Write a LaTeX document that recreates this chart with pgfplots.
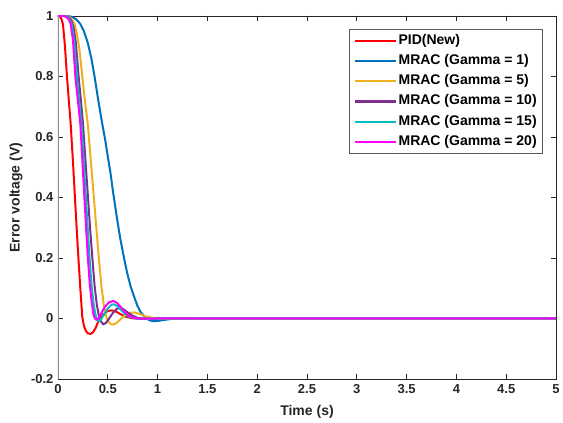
\documentclass[border=0pt]{standalone}
\usepackage{fontspec}
\setmainfont{Liberation Sans}
\usepackage{pgfplots}
\pgfplotsset{compat=1.18}

\definecolor{pidred}{rgb}{1,0,0}
\definecolor{gammaone}{rgb}{0,0.447,0.741}
\definecolor{gammafive}{rgb}{0.929,0.694,0.125}
\definecolor{gammaten}{rgb}{0.494,0.184,0.556}
\definecolor{gammafifteen}{rgb}{0,0.75,0.75}
\definecolor{gammatwenty}{rgb}{1,0,1}
\definecolor{axgray}{rgb}{0.15,0.15,0.15}

\begin{document}
\begin{tikzpicture}
\useasboundingbox (-58pt,-44pt) rectangle (505pt,379pt);
\begin{axis}[
    at={(0,0)}, anchor=south west,
    scale only axis,
    width=498pt, height=363pt,
    xmin=0, xmax=5, ymin=-0.2, ymax=1,
    xtick={0,0.5,...,5},
    xticklabels={0,0.5,1,1.5,2,2.5,3,3.5,4,4.5,5},
    ytick={-0.2,0,0.2,0.4,0.6,0.8,1},
    yticklabels={-0.2,0,0.2,0.4,0.6,0.8,1},
    tick align=inside,
    major tick length=5pt,
    axis line style={axgray, line width=0.8pt},
    every tick/.style={axgray, line width=0.8pt},
    tick label style={font=\bfseries\fontsize{13}{15}\selectfont, text=axgray},
    /pgf/number format/assume math mode=true,
    xticklabel style={yshift=-2pt},
    yticklabel style={xshift=-1pt},
    xlabel={Time (s)},
    ylabel={Error voltage (V)},
    label style={font=\bfseries\fontsize{14}{16}\selectfont, text=axgray},
    xlabel style={at={(axis description cs:0.5,-0.091)}, anchor=center},
    ylabel style={at={(axis description cs:-0.0845,0.5)}, anchor=center},
    legend style={
        at={(axis description cs:1,1)}, anchor=north east,
        xshift=-13pt, yshift=-13pt,
        draw=gray!70!black, line width=0.6pt,
        font=\bfseries\fontsize{14}{16}\selectfont,
        inner xsep=4pt, inner ysep=1.5pt,
        nodes={inner xsep=2pt, inner ysep=3.6pt, text height=10pt, text depth=3pt},
    },
    legend cell align=left,
    legend image code/.code={\draw[#1, line width=2.2pt] (0pt,0pt) -- (41pt,0pt);},
    every axis plot/.append style={line width=2pt},
]

\addplot[pidred] coordinates {
(0,1)(0.02,0.998)(0.035,0.99)(0.05,0.972)(0.07,0.90)(0.09,0.80)(0.11,0.715)
(0.127,0.645)(0.15,0.52)(0.17,0.40)(0.187,0.30)(0.205,0.20)(0.225,0.095)
(0.244,0.005)(0.26,-0.024)(0.28,-0.041)(0.30,-0.049)(0.325,-0.051)(0.35,-0.046)
(0.38,-0.03)(0.41,-0.005)(0.45,0.013)(0.50,0.025)(0.54,0.027)(0.58,0.023)
(0.63,0.014)(0.68,0.006)(0.74,0.001)(0.82,-0.001)(0.95,0)(5,0)
};
\addlegendentry{PID(New)}

\addplot[gammaone] coordinates {
(0,1)(0.1,1)(0.14,0.997)(0.18,0.99)(0.224,0.974)(0.26,0.95)(0.30,0.91)
(0.335,0.86)(0.367,0.80)(0.405,0.72)(0.444,0.644)(0.474,0.59)(0.50,0.535)
(0.527,0.481)(0.55,0.425)(0.574,0.371)(0.60,0.315)(0.627,0.261)(0.66,0.205)
(0.694,0.151)(0.73,0.105)(0.774,0.063)(0.80,0.04)(0.834,0.019)(0.88,0.002)
(0.92,-0.006)(0.96,-0.009)(1.0,-0.008)(1.06,-0.005)(1.15,-0.001)(1.3,0)(5,0)
};
\addlegendentry{MRAC (Gamma = 1)}

\addplot[gammafive] coordinates {
(0,1)(0.09,1)(0.12,0.995)(0.145,0.987)(0.167,0.972)(0.19,0.94)(0.215,0.89)
(0.244,0.80)(0.27,0.72)(0.30,0.64)(0.325,0.54)(0.355,0.42)(0.385,0.30)
(0.41,0.20)(0.435,0.11)(0.46,0.045)(0.485,0.005)(0.51,-0.012)(0.535,-0.019)
(0.56,-0.02)(0.59,-0.014)(0.63,-0.002)(0.68,0.012)(0.73,0.019)(0.77,0.02)
(0.82,0.015)(0.88,0.007)(0.95,0.002)(1.05,-0.001)(1.2,0)(5,0)
};
\addlegendentry{MRAC (Gamma = 5)}

\addplot[gammaten] coordinates {
(0,1)(0.08,1)(0.11,0.995)(0.13,0.987)(0.155,0.965)(0.18,0.91)(0.207,0.80)
(0.23,0.72)(0.252,0.64)(0.272,0.54)(0.297,0.42)(0.322,0.30)(0.345,0.20)
(0.367,0.11)(0.39,0.045)(0.41,0.01)(0.43,-0.01)(0.455,-0.019)(0.48,-0.015)
(0.51,-0.002)(0.55,0.018)(0.59,0.032)(0.625,0.035)(0.66,0.03)(0.70,0.02)
(0.75,0.009)(0.80,0.002)(0.88,-0.001)(1.0,0)(5,0)
};
\addlegendentry{MRAC (Gamma = 10)}

\addplot[gammafifteen] coordinates {
(0,1)(0.07,1)(0.10,0.995)(0.12,0.987)(0.14,0.97)(0.165,0.91)(0.19,0.80)
(0.213,0.72)(0.237,0.64)(0.255,0.54)(0.277,0.42)(0.298,0.30)(0.317,0.20)
(0.337,0.11)(0.357,0.05)(0.375,0.015)(0.39,-0.003)(0.41,-0.009)(0.43,-0.004)
(0.46,0.012)(0.50,0.033)(0.535,0.045)(0.56,0.047)(0.60,0.04)(0.64,0.026)
(0.68,0.013)(0.72,0.005)(0.78,0)(0.9,-0.001)(1.05,0)(5,0)
};
\addlegendentry{MRAC (Gamma = 15)}

\addplot[gammatwenty] coordinates {
(0,1)(0.06,1)(0.09,0.995)(0.11,0.988)(0.127,0.974)(0.15,0.92)(0.174,0.80)
(0.20,0.72)(0.224,0.644)(0.24,0.55)(0.26,0.43)(0.282,0.30)(0.30,0.20)
(0.32,0.11)(0.34,0.05)(0.355,0.015)(0.37,0.0)(0.385,-0.004)(0.40,-0.002)
(0.43,0.015)(0.47,0.038)(0.51,0.053)(0.555,0.058)(0.59,0.052)(0.63,0.038)
(0.67,0.022)(0.71,0.009)(0.76,0.002)(0.85,-0.001)(1.0,0)(5,0)
};
\addlegendentry{MRAC (Gamma = 20)}

\draw[gray!90, line width=1.2pt] (axis cs:0,-0.2) -- (axis cs:0,1);
\end{axis}
\end{tikzpicture}
\end{document}
